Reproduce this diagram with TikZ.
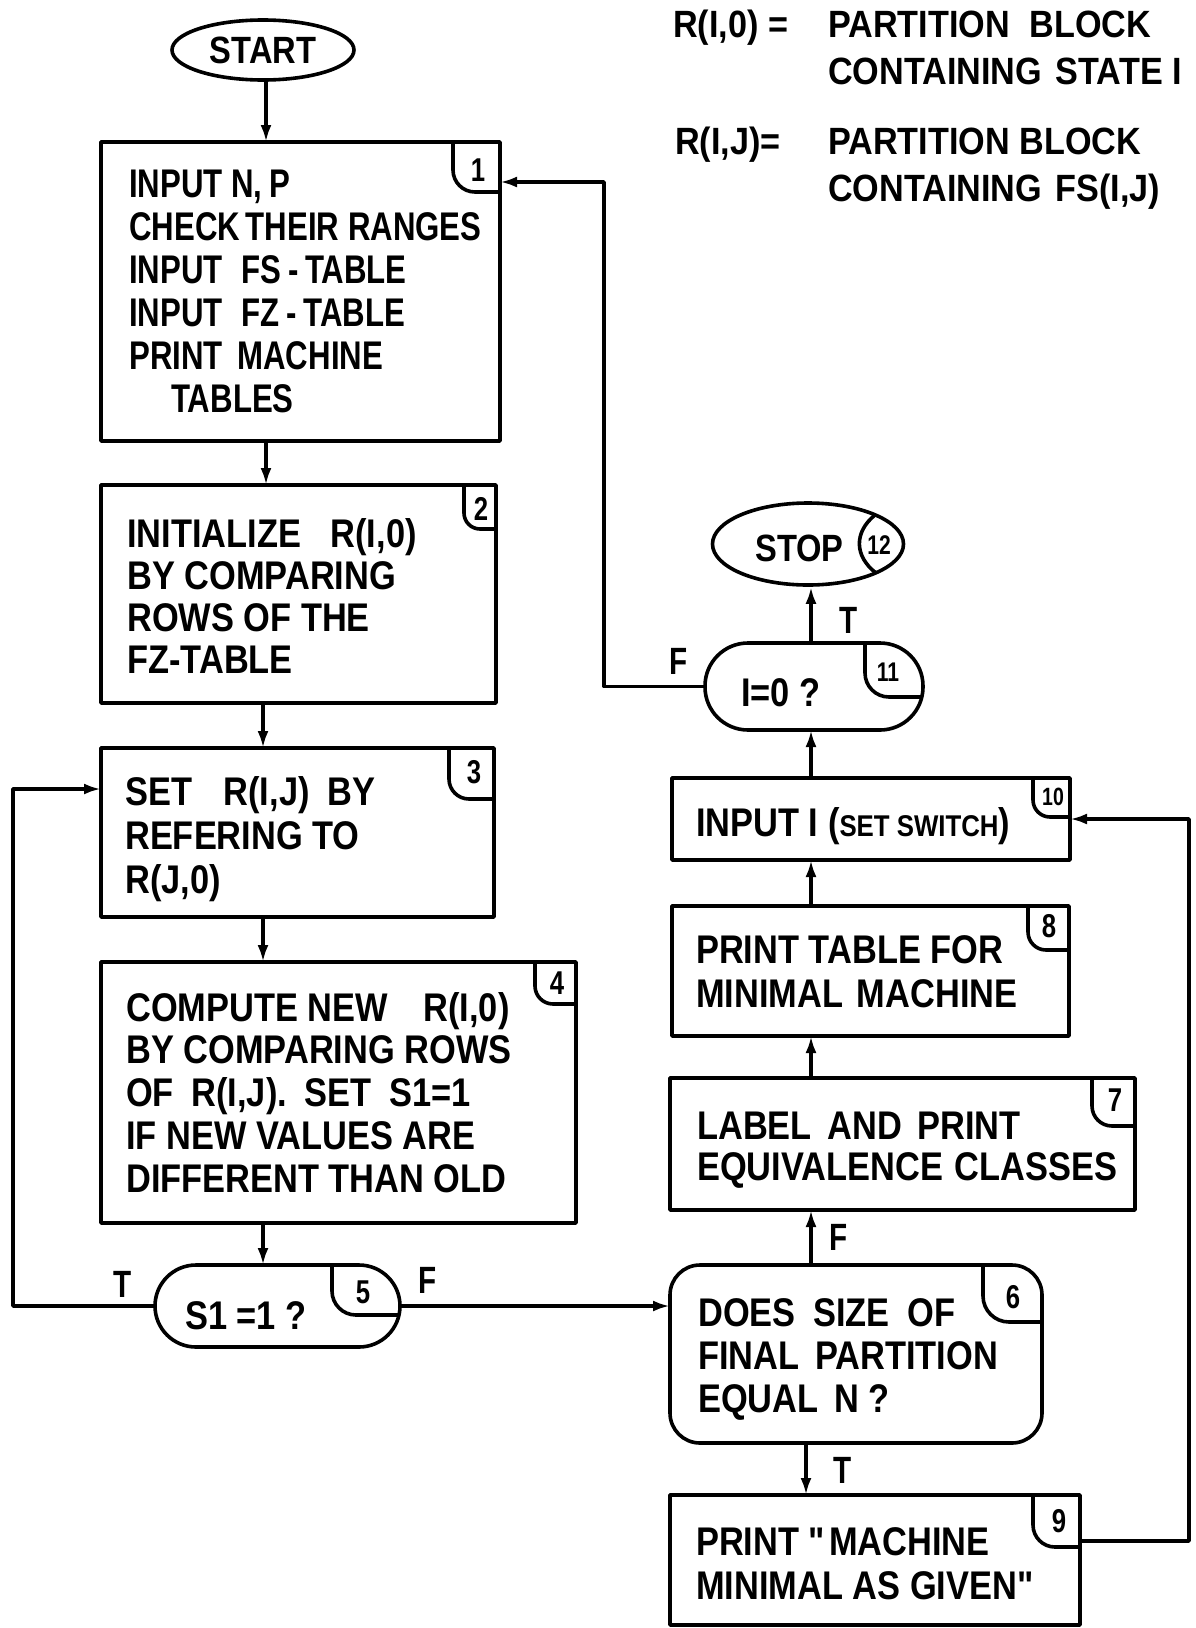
\documentclass[tikz,border=0pt]{standalone}
\usepackage{fontspec}
\setmainfont{Liberation Sans}[FakeStretch=0.78]
\newfontfamily\widefont{Liberation Sans}[FakeStretch=0.86]
\newfontfamily\legfont{Liberation Sans}[FakeStretch=0.9]
\newfontfamily\qfont{Liberation Sans}[FakeStretch=0.86]
\usetikzlibrary{arrows.meta,shapes.geometric,calc}
\newcommand\myfs[2]{\fontsize{#1}{#2}\bfseries\selectfont}
\newcommand\cbadge[4]{%
  \draw[lw, rounded corners=#4] ([xshift=-#2]#1.north east) |- ([yshift=-#3]#1.north east);}
\begin{document}
\begin{tikzpicture}[x=1pt,y=-1pt,
  font=\myfs{40}{43},
  lw/.style={line width=3.6pt, line join=round},
  box/.style={draw, lw, rectangle, inner sep=0pt, outer sep=0pt, anchor=north west},
  arr/.style={lw, -{Latex[length=17pt,width=11pt]}},
  txt/.style={anchor=base west, inner sep=0pt, align=left},
  num/.style={inner sep=0pt, font=\myfs{33}{34}},
  lab/.style={inner sep=0pt, font=\myfs{38}{40}},
  leg/.style={anchor=base west, inner sep=0pt, align=left, font=\legfont\myfs{38}{47}}]
\fill[white] (0,0) rectangle (1195,1628);
\useasboundingbox (0,0) rectangle (1195,1628);

% shapes
\node[draw, lw, ellipse, minimum width=182pt, minimum height=60pt, inner sep=0pt, font=\widefont\myfs{38}{40}] (start) at (263,50) {START};
\node[box, minimum width=399pt, minimum height=299pt] (b1) at (101,142) {};
\node[box, minimum width=395pt, minimum height=218pt] (b2) at (101,485) {};
\node[box, minimum width=393pt, minimum height=169pt] (b3) at (101,748) {};
\node[box, minimum width=475pt, minimum height=261pt] (b4) at (101,962) {};
\node[box, rounded corners=41pt, minimum width=245pt, minimum height=82pt] (d5) at (155,1265) {};
\node[box, rounded corners=30pt, minimum width=372pt, minimum height=178pt] (b6) at (670,1265) {};
\node[box, minimum width=410pt, minimum height=130pt] (b9) at (670,1495) {};
\node[box, minimum width=465pt, minimum height=132pt] (b7) at (670,1078) {};
\node[box, minimum width=397pt, minimum height=130pt] (b8) at (672,906) {};
\node[box, minimum width=398pt, minimum height=82pt] (b10) at (672,778) {};
\node[box, rounded corners=43pt, minimum width=218pt, minimum height=87pt] (d11) at (705,643) {};
\node[draw, lw, ellipse, minimum width=191pt, minimum height=82pt, inner sep=0pt] (stop) at (808,544) {};

% badges
\cbadge{b1}{47pt}{50pt}{22pt}
\cbadge{b2}{32pt}{44pt}{16pt}
\cbadge{b3}{45pt}{51pt}{20pt}
\cbadge{b4}{41pt}{42pt}{18pt}
\cbadge{b6}{59pt}{57pt}{26pt}
\cbadge{b7}{43pt}{48pt}{20pt}
\cbadge{b8}{41pt}{44pt}{18pt}
\cbadge{b10}{37pt}{39pt}{17pt}
\cbadge{b9}{47pt}{52pt}{22pt}
\draw[lw, rounded corners=24pt] ([xshift=-68pt]d5.north east) |- ([xshift=-1pt,yshift=-9pt]d5.east);
\draw[lw, rounded corners=24pt] ([xshift=-58pt]d11.north east) |- ([xshift=-1.5pt,yshift=-10.5pt]d11.east);
\draw[lw] ($(stop.center)+(67,-29)$) .. controls ($(stop.center)+(46,-12)$) and ($(stop.center)+(46,12)$) .. ($(stop.center)+(68,29)$);

\node[num] (n1) at (478,170) {1};
\node[num] (n2) at (481,509) {2};
\node[num] (n3) at (474,772) {3};
\node[num] (n4) at (557,983) {4};
\node[num] (n5) at (363,1292) {5};
\node[num] (n6) at (1013,1297) {6};
\node[num] (n7) at (1115,1100) {7};
\node[num] (n8) at (1049,926) {8};
\node[num] (n9) at (1059,1521) {9};
\node[num, font=\myfs{25}{28}] (n10) at (1053,797) {10};
\node[num, font=\myfs{27}{30}] (n11) at (888,672) {11};
\node[num, font=\myfs{27}{30}] (n12) at (879,545) {12};

% texts (anchor = baseline of the last line)
\node[txt] (t1) at (129,412) {INPUT N,\,P\\CHECK\hspace{-3pt} THEIR RANGES\\INPUT\hspace{10pt} FS\,-\,TABLE\\INPUT\hspace{10pt} FZ\,-\,TABLE\\PRINT\hspace{6pt} MACHINE\\\hspace*{42pt}TABLES};
\node[txt, font=\widefont\myfs{40}{42}] (t2) at (127,673) {INITIALIZE\hspace{20pt} R(I,0)\\BY COMPARING\\ROWS OF THE\\FZ-TABLE};
\node[txt, font=\widefont\myfs{40}{44}] (t3) at (125,893) {SET\hspace{22pt} R(I,J)\hspace{8pt} BY\\REFERING TO\\R(J,0)};
\node[txt, font=\widefont\myfs{40}{42.7}] (t4) at (126,1192) {COMPUTE NEW\hspace{26pt} R(I,0)\\BY COMPARING ROWS\\OF\hspace{8pt} R(I,J).\hspace{8pt} SET\hspace{8pt} S1=1\\IF NEW VALUES ARE\\DIFFERENT THAN OLD};
\node[txt, font=\widefont\myfs{40}{43}] (t5) at (185,1329) {S1 =1 ?};
\node[txt, font=\widefont\myfs{40}{43}] (t6) at (698,1412) {DOES\hspace{8pt} SIZE\hspace{8pt} OF\\FINAL\hspace{6pt} PARTITION\\EQUAL\hspace{6pt} N ?};
\node[txt, font=\widefont\myfs{40}{44}] (t9) at (696,1599) {PRINT {\qfont\bfseries "}\hspace{4pt}MACHINE\\MINIMAL AS GIVEN{\qfont\bfseries "}};
\node[txt, font=\widefont\myfs{40}{41}] (t7) at (697,1180) {LABEL\hspace{6pt} AND\hspace{6pt} PRINT\\EQUIVALENCE\hspace{2pt} CLASSES};
\node[txt, font=\widefont\myfs{40}{44}] (t8) at (696,1007) {PRINT TABLE FOR\\MINIMAL\hspace{4pt} MACHINE};
\node[txt, font=\widefont\myfs{40}{43}] (t10) at (696,836) {INPUT I ({\myfs{30}{30}SET SWITCH})};
\node[txt, font=\widefont\myfs{40}{43}] (t11) at (741,706) {I=0 ?};
\node[txt, font=\widefont\myfs{38}{40}] (t12) at (755,561) {STOP};

% legend
\node[leg] (l1) at (673,37) {R(I,0) =};
\node[leg] (l2) at (828,84) {PARTITION\hspace{10pt} BLOCK\\CONTAINING\hspace{4pt} STATE I};
\node[leg] (l3) at (675,154) {R(I,J)=};
\node[leg] (l4) at (828,201) {PARTITION BLOCK\\CONTAINING\hspace{4pt} FS(I,J)};

% connectors
\coordinate (xa) at (266,0);
\coordinate (xc) at (263,0);
\coordinate (xr) at (811,0);
\coordinate (xt) at (806,0);
\coordinate (lx) at (13,789);
\coordinate (rx) at (604,182);
\coordinate (ry) at (1189,1541);
\draw[arr] (start.south -| xa) -- (b1.north -| xa);
\draw[arr] (b1.south -| xa) -- (b2.north -| xa);
\draw[arr] (b2.south -| xc) -- (b3.north -| xc);
\draw[arr] (b3.south -| xc) -- (b4.north -| xc);
\draw[arr] (b4.south -| xc) -- (d5.north -| xc);
\draw[arr] (d5.west) -| (lx) -- (lx -| b3.west);
\draw[arr] (d5.east) -- (d5.east -| b6.west);
\draw[arr] (b6.north -| xr) -- (b7.south -| xr);
\draw[arr] (b6.south -| xt) -- (b9.north -| xt);
\draw[arr] (b7.north -| xr) -- (b8.south -| xr);
\draw[arr] (b8.north -| xr) -- (b10.south -| xr);
\draw[arr] (b10.north -| xr) -- (d11.south -| xr);
\draw[arr] (d11.north -| xr) -- (stop.south -| xr);
\draw[arr] (d11.west) -| (rx) -- (rx -| b1.east);
\draw[arr] (ry -| b9.east) -- (ry) |- (b10.east);

% branch labels
\node[lab] (tT5) at (123,1284) {T};
\node[lab] (tF5) at (428,1280) {F};
\node[lab] (tF6) at (839,1237) {F};
\node[lab] (tT6) at (843,1470) {T};
\node[lab] (tT11) at (849,620) {T};
\node[lab] (tF11) at (679,661) {F};
\end{tikzpicture}
\end{document}
